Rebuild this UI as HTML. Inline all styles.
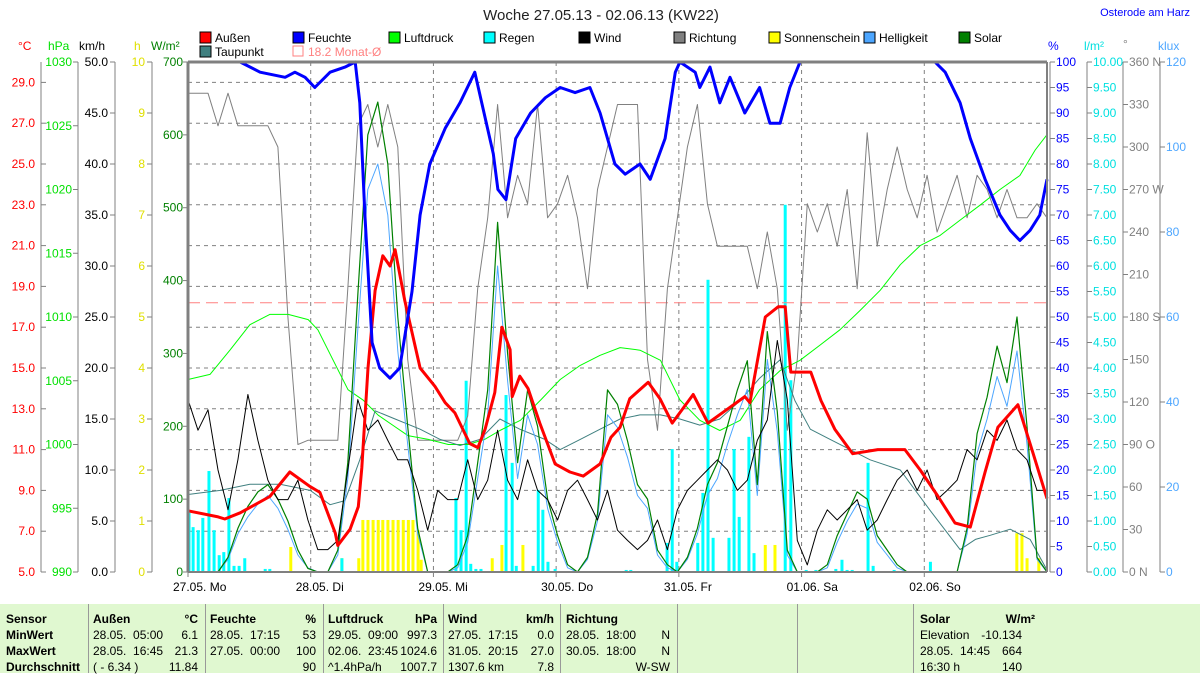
<!DOCTYPE html>
<html><head><meta charset="utf-8"><style>
html,body{margin:0;padding:0;background:#fff;}
svg{display:block;font-family:"Liberation Sans",sans-serif;}
.tb{font-family:"Liberation Sans Narrow","Liberation Sans",sans-serif;font-size:12px;}
</style></head><body>
<svg id="chart" width="1200" height="673" viewBox="0 0 1200 673" xmlns="http://www.w3.org/2000/svg">
<text x="601" y="20" text-anchor="middle" font-size="15" fill="#222">Woche 27.05.13 - 02.06.13 (KW22)</text>
<text x="1190" y="16" text-anchor="end" font-size="11" fill="#0000ff">Osterode am Harz</text>
<g font-size="12" fill="#000">
<g><rect x="200" y="32" width="11" height="11" fill="#ff0000" stroke="#000"/><text x="215" y="42">Außen</text></g>
<g><rect x="293" y="32" width="11" height="11" fill="#0000ff" stroke="#000"/><text x="308" y="42">Feuchte</text></g>
<g><rect x="389" y="32" width="11" height="11" fill="#00ff00" stroke="#000"/><text x="404" y="42">Luftdruck</text></g>
<g><rect x="484" y="32" width="11" height="11" fill="#00ffff" stroke="#000"/><text x="499" y="42">Regen</text></g>
<g><rect x="579" y="32" width="11" height="11" fill="#000" stroke="#000"/><text x="594" y="42">Wind</text></g>
<g><rect x="674" y="32" width="11" height="11" fill="#808080" stroke="#000"/><text x="689" y="42">Richtung</text></g>
<g><rect x="769" y="32" width="11" height="11" fill="#ffff00" stroke="#000"/><text x="784" y="42">Sonnenschein</text></g>
<g><rect x="864" y="32" width="11" height="11" fill="#4da6ff" stroke="#000"/><text x="879" y="42">Helligkeit</text></g>
<g><rect x="959" y="32" width="11" height="11" fill="#008000" stroke="#000"/><text x="974" y="42">Solar</text></g>
<g><rect x="200" y="46" width="11" height="11" fill="#408080" stroke="#000"/><text x="215" y="56">Taupunkt</text></g>
<g><rect x="293" y="46" width="10" height="10" fill="none" stroke="#ff8080"/><text x="308" y="56" fill="#ff8080">18.2 Monat-Ø</text></g>
</g>
<g font-size="12">
<text x="18" y="50" fill="#ff0000">°C</text>
<text x="48" y="50" fill="#00e000">hPa</text>
<text x="79" y="50" fill="#000">km/h</text>
<text x="134" y="50" fill="#e0e000">h</text>
<text x="151" y="50" fill="#008000">W/m²</text>
<text x="1048" y="50" fill="#0000ff">%</text>
<text x="1084" y="50" fill="#00e0e0">l/m²</text>
<text x="1123" y="48" fill="#808080">°</text>
<text x="1158" y="50" fill="#4da6ff">klux</text>
</g>
<g id="axes"></g>
<g id="plot"></g>
</svg>
<div class="tb" style="position:absolute;left:0;top:604px;width:1200px;height:69px;background:#e0f8d0;"></div>
<script>
// ---- data ----
var tempT=[0,5.9,7.2,10.2,13.1,16,19.9,23.8,25.8,28.8,29.3,31.7,33.3,34,35.2,36.6,38.1,39.5,40.5,42.4,45.4,48.3,50.3,52.2,55.1,56.7,58.1,60,61.4,63,63.4,64.9,66.5,68.8,71.8,74.7,77.3,80.6,82.7,84.5,86.4,90,92.3,94.7,98.8,101.7,105.6,108.9,109.9,112.9,115.4,116.8,117.9,121.8,123.8,126.5,130,134.9,140.2,143.2,146.7,150,153,155.9,158.4,162.3,165.3,168];
var tempV=[8.0,7.7,7.6,7.9,8.3,8.7,9.9,9.2,8.9,6.9,6.3,7.1,8.2,10.1,15.0,18.8,20.5,20.0,20.8,18.3,15.0,14.1,13.3,12.8,11.3,11.1,12.0,13.8,17.0,15.9,13.6,14.6,14.0,12.3,10.3,9.9,9.7,10.3,11.6,12.1,13.5,14.3,13.5,12.3,13.7,12.3,13.0,13.6,13.3,17.5,18.0,18.0,14.8,14.8,13.4,12.0,10.8,11.0,11.0,10.0,8.7,7.4,7.2,9.9,12.1,13.2,10.8,8.6];
var humT=[0,10.2,14.1,19,20.9,22.9,24.8,27.8,30.7,32.7,33.6,34.6,36,37.5,39.5,41.4,43.8,45.4,47.3,50.3,53.2,56.1,59.7,60.6,62.2,64.1,67,69.9,72.8,75.7,78.6,80.6,83.5,85.5,88.4,90.4,93.3,95.3,96.2,99.2,100.1,102.1,104,106,108.9,111.8,113.8,115.8,117.7,119.7,146.1,148.1,151,153,155.9,158.8,160.8,162.7,164.7,166.6,168];
var humV=[100,100,98,97,98,97,95,98,99,100,92,70,45,40,38,40,55,70,80,87,92,98,82,75,73,85,90,93,95,94,95,90,80,78,80,77,85,98,100,98,95,99,92,97,90,95,88,88,95,100,100,98,92,85,77,70,67,65,67,70,77];
var presT=[0,4.3,8.2,12.1,16,19.6,23.5,25.4,28.4,31.3,34.2,37.2,40.1,43,47,50.9,54.8,58,61,65,69,72.8,76.7,80.6,84.5,88.4,92.4,96.2,100.1,104,108,111.8,115.8,119.7,123.6,127.5,131.4,135.4,139.3,143.2,147.1,151,155,158.8,162.7,165.7,168];
var presV=[1005.1,1005.5,1007.4,1009.4,1010.2,1010.2,1009.8,1009,1006.6,1004.3,1003.5,1002.3,1001.5,1000.7,1000.4,1000,1000,1000.4,1001.1,1001.9,1003.5,1005.1,1006.2,1007,1007.6,1007.4,1006.6,1003.5,1001.9,1001.1,1001.9,1004.3,1005.8,1006.6,1007.8,1009,1010.5,1012.1,1014.1,1015.6,1016.4,1017.6,1018.8,1020,1021.1,1023.1,1024.3];
var dewT=[0,6.3,12.1,18,23.9,27.8,30.7,33.6,36.6,40.5,45.4,49.3,53.2,57.1,61,64.9,69.8,72.8,76.7,80.6,84.5,88.4,92.4,96.2,100.1,104,108,111.8,115.8,118.7,121.7,125.6,129.5,133.4,139.3,145.2,151,154,156.9,160.8,164.7,168];
var dewV=[8.8,9.0,9.3,9.3,9.0,8.3,8.5,10.5,12.9,12.5,12.0,11.5,11.2,11.5,12.5,12.0,11.5,11.0,11.5,12.0,12.5,12.7,12.7,12.5,12.2,12.5,13.4,14.5,15.4,13.4,12.0,11.5,11.0,10.5,10.0,8.0,6.1,6.6,6.8,7.1,6.6,5.1];
// uniformly sampled series (0h .. 168h)
var windV=[16.9,13.9,15.9,10,6.1,11,17.4,12.9,9,7.1,7.1,9,5.1,2.2,2.2,3.1,10,16.9,13.9,14.9,12.9,11,11,8,4.1,8,7.1,7.1,11,7.1,9,13.9,9,7.1,11,8,7.1,5.1,8,9,7.1,5.1,8,4.1,3.1,2.2,3.1,5.1,2.2,6.1,8,9,10,11,10,8,9,12.9,14.9,22.7,16.9,3.1,0.7,4.1,6.1,5.1,6.1,7.1,4.1,5.1,7.1,9,10,8,10,7.1,8,9,12,11,13.9,12.9,14.9,12,11,8,8];
var dirV=[338,338,338,315,338,315,315,315,315,300,180,90,93,93,93,93,200,315,330,300,330,300,150,93,93,93,93,93,110,200,250,330,250,280,260,330,250,260,280,250,200,270,300,330,330,330,150,100,200,250,300,330,260,230,230,230,230,200,240,200,100,150,260,240,260,230,270,200,310,230,270,300,270,250,280,240,260,280,250,280,270,250,270,250,250,260,250];
var solarV=[0,0,0,0,20,60,90,110,120,100,70,30,5,0,0,30,150,380,600,645,560,350,200,60,0,0,0,10,50,150,250,480,300,150,250,200,100,50,10,0,20,80,250,230,180,120,100,30,10,0,20,60,120,150,200,250,290,120,330,220,30,0,0,0,10,50,80,110,100,50,30,10,0,0,0,0,0,0,60,190,240,310,260,350,200,20,0];
var luxV=[0,0,0,0,3,9,13,16,18,15,10,4,1,0,0,4,22,57,90,96,84,52,30,9,0,0,0,1,7,22,37,72,45,22,37,30,15,7,1,0,3,12,37,34,27,18,15,4,1,0,3,9,18,22,30,37,43,18,50,33,4,0,0,0,1,7,12,16,15,7,4,1,0,0,0,0,0,0,9,28,36,46,39,52,30,3,0];
var rainT=[0.2,1.0,2.0,2.9,4.1,5.1,6.1,7.0,8.0,9.0,10.0,11.1,15.1,16.0,30.1,52.4,53.4,54.4,55.3,56.3,57.3,62.2,63.4,64.2,67.5,68.5,69.4,70.4,71.8,85.7,86.6,93.7,94.7,95.6,99.7,100.7,101.7,102.7,105.8,106.8,107.8,109.7,110.7,116.8,117.9,120.9,122.8,126.7,127.9,128.9,129.9,133,134,138.1,145.2];
var rainV=[1.16,0.88,0.82,1.06,1.98,0.82,0.33,0.39,1.45,0.12,0.12,0.27,0.06,0.06,0.27,1.45,0.82,3.75,0.16,0.06,0.06,3.47,2.14,0.12,0.12,1.61,1.22,0.2,0.06,0.04,0.04,0.57,2.41,0.2,0.57,1.55,5.73,0.67,0.67,2.41,1.08,2.65,0.37,7.2,3.76,0.04,0.04,0.06,0.24,0.04,0.04,2.14,0.12,0.04,0.2];
var sunT=[20.1,30.1,33.4,34.2,35.2,36.2,37.2,38.1,39.1,40.1,41.1,42.1,43.1,44.0,45.0,45.6,59.5,61.4,65.5,112.9,114.8,162.1,163.1,164.1,166.4];
var sunV=[0.49,0.27,0.27,1.02,1.02,1.02,1.02,1.02,1.02,1.02,1.02,1.02,1.02,1.02,0.82,0.24,0.27,0.53,0.53,0.53,0.53,0.76,0.76,0.27,0.27];
var monthAvg=18.2;
var dayLabels=["27.05.  Mo","28.05.  Di","29.05.  Mi","30.05.  Do","31.05.  Fr","01.06.  Sa","02.06.  So"];
var tempTicks=[5,7,9,11,13,15,17,19,21,23,25,27,29];
var presTicks=[990,995,1000,1005,1010,1015,1020,1025,1030];
var windTicks=[0,5,10,15,20,25,30,35,40,45,50];
var sunTicks=[0,1,2,3,4,5,6,7,8,9,10];
var solarTicks=[0,100,200,300,400,500,600,700];
var humTicks=[0,5,10,15,20,25,30,35,40,45,50,55,60,65,70,75,80,85,90,95,100];
var rainTicks=["0.00","0.50","1.00","1.50","2.00","2.50","3.00","3.50","4.00","4.50","5.00","5.50","6.00","6.50","7.00","7.50","8.00","8.50","9.00","9.50","10.00"];
var dirTicks=[0,30,60,90,120,150,180,210,240,270,300,330,360];
var dirNames={0:" N",90:" O",180:" S",270:" W",360:" N"};
var luxTicks=[0,20,40,60,80,100,120];

// ---- scales ----
var L=188,R=1047,T=62,B=572,HH=B-T;
function X(h){return L+h*(R-L)/168;}
function yT(c){return B-(c-5)/25*HH;}
function yP(p){return B-(p-990)/40*HH;}
function yW(k){return B-k/50*HH;}
function yS(w){return B-w/700*HH;}
function yH(p){return B-p/100*HH;}
function yR(l){return B-l/10*HH;}
function yD(d){return B-d/360*HH;}
function yL(k){return B-k/120*HH;}
function ySun(h){return B-h/10*HH;}
var NS="http://www.w3.org/2000/svg";
var axes=document.getElementById('axes'),plot=document.getElementById('plot');
function mk(tag,attrs,parent){var e=document.createElementNS(NS,tag);for(var k in attrs)e.setAttribute(k,attrs[k]);parent.appendChild(e);return e;}
function txt(x,y,s,anchor,fill,parent){var e=mk('text',{x:x,y:y,'text-anchor':anchor,fill:fill,'font-size':12},parent);e.textContent=s;return e;}

// grid
var grid=mk('g',{},plot);


tempTicks.forEach(function(c){if(c>5)mk('line',{x1:L,x2:R,y1:yT(c),y2:yT(c),stroke:'#808080','stroke-dasharray':'4,4','stroke-width':1},grid);});
for(var d=1;d<7;d++){mk('line',{x1:X(d*24),x2:X(d*24),y1:T,y2:B,stroke:'#808080','stroke-dasharray':'4,4','stroke-width':1},grid);}

// axes
function vAxis(name,xLine,ticks,yf,fmt,color,side,lx,anchor){
  var g=mk('g',{},axes);
  
  
  if(xLine!==null)mk('line',{x1:xLine,x2:xLine,y1:T,y2:B,stroke:'#808080','stroke-width':1},g);
  ticks.forEach(function(v,i){var y=yf(v,i);
    if(xLine!==null)mk('line',{x1:xLine,x2:xLine+side*5,y1:y,y2:y,stroke:'#808080'},g);
    txt(lx,y+4,fmt(v),anchor,color,g);});
}
vAxis('temp-axis',41,tempTicks,yT,function(v){return v.toFixed(1);},'#ff0000',1,35,'end');
vAxis('pressure-axis',78,presTicks,yP,function(v){return ''+v;},'#00e000',-1,72,'end');
vAxis('wind-axis',115,windTicks,yW,function(v){return v.toFixed(1);},'#000',-1,108,'end');
vAxis('sunshine-axis',152,sunTicks,ySun,function(v){return ''+v;},'#e0e000',-1,145,'end');
vAxis('solar-axis',null,solarTicks,yS,function(v){return ''+v;},'#008000',-1,183,'end');
solarTicks.forEach(function(v){mk('line',{x1:183,x2:188,y1:yS(v),y2:yS(v),stroke:'#808080'},axes);});
vAxis('humidity-axis',1050,humTicks,yH,function(v){return ''+v;},'#0000ff',1,1056,'start');
vAxis('rain-axis',1087,rainTicks,function(v,i){return yR(i*0.5);},function(v){return v;},'#00e0e0',1,1093,'start');
vAxis('direction-axis',1123,dirTicks,yD,function(v){return v+(dirNames[v]||'');},'#808080',1,1129,'start');
vAxis('lux-axis',1160,luxTicks,yL,function(v){return ''+v;},'#4da6ff',1,1166,'start');

// x labels
dayLabels.forEach(function(s,i){
  var t=txt(X(i*24)-15,591,s,'start','#000',axes);
  
  
  t.setAttribute('xml:space','preserve');
  mk('line',{x1:X(i*24),x2:X(i*24),y1:B,y2:B+5,stroke:'#808080'},axes);
});

// bars
sunT.forEach(function(h,i){
  var r=mk('rect',{x:X(h)-1.5,y:ySun(sunV[i]),width:3,height:B-ySun(sunV[i]),fill:'#ffff00'},plot);
  
  
});
rainT.forEach(function(h,i){
  var r=mk('rect',{x:X(h)-1.5,y:yR(rainV[i]),width:3,height:B-yR(rainV[i]),fill:'#00ffff'},plot);
  
  
});
var ma=mk('line',{x1:L,x2:R,y1:yT(monthAvg),y2:yT(monthAvg),stroke:'#ff8080','stroke-dasharray':'12,6'},plot);



function line(name,ts,vs,yf,color,w){
  var d='';for(var i=0;i<vs.length;i++){d+=(i?'L':'M')+X(ts[i]).toFixed(1)+','+yf(vs[i]).toFixed(1);}
  var p=mk('path',{d:d,fill:'none',stroke:color,'stroke-width':w,'stroke-linejoin':'round'},plot);
  
  
  return p;
}
function uni(vs){var t=[];for(var i=0;i<vs.length;i++)t.push(i*168/(vs.length-1));return t;}
line('direction-line',uni(dirV),dirV,yD,'#808080',1);
line('pressure-line',presT,presV,yP,'#00ff00',1);
line('dewpoint-line',dewT,dewV,yT,'#408080',1);
line('brightness-line',uni(luxV),luxV,yL,'#4da6ff',1);
line('solar-line',uni(solarV),solarV,yS,'#008000',1.2);
line('wind-line',uni(windV),windV,yW,'#000',1);
line('temperature-line',tempT,tempV,yT,'#ff0000',3);
line('humidity-line',humT,humV,yH,'#0000ff',3);

// frame
var fr=mk('g',{},plot);


mk('line',{x1:L,x2:R,y1:T,y2:T,stroke:'#808080','stroke-width':3},fr);
mk('line',{x1:L,x2:L,y1:T,y2:B,stroke:'#808080','stroke-width':3},fr);
mk('line',{x1:R,x2:R,y1:T,y2:B,stroke:'#808080','stroke-width':2},fr);
mk('line',{x1:L,x2:R,y1:B,y2:B,stroke:'#808080','stroke-width':2},fr);

// table
var tb=document.querySelector('.tb');
var seps=[88,205,323,443,560,677,797,913];
seps.forEach(function(x){var s=document.createElement('div');s.style.cssText='position:absolute;left:'+x+'px;top:0;width:1px;height:69px;background:#999;';tb.appendChild(s);});
var cells=[
 [6,'Sensor',1,'s'],[6,'MinWert',2,'s'],[6,'MaxWert',3,'s'],[6,'Durchschnitt',4,'s'],
 [93,'Außen',1,'s'],[198,'°C',1,'e'],[93,'28.05.  05:00',2],[198,'6.1',2,'e'],[93,'28.05.  16:45',3],[198,'21.3',3,'e'],[93,'( - 6.34 )',4],[198,'11.84',4,'e'],
 [210,'Feuchte',1,'s'],[316,'%',1,'e'],[210,'28.05.  17:15',2],[316,'53',2,'e'],[210,'27.05.  00:00',3],[316,'100',3,'e'],[316,'90',4,'e'],
 [328,'Luftdruck',1,'s'],[437,'hPa',1,'e'],[328,'29.05.  09:00',2],[437,'997.3',2,'e'],[328,'02.06.  23:45',3],[437,'1024.6',3,'e'],[328,'^1.4hPa/h',4],[437,'1007.7',4,'e'],
 [448,'Wind',1,'s'],[554,'km/h',1,'e'],[448,'27.05.  17:15',2],[554,'0.0',2,'e'],[448,'31.05.  20:15',3],[554,'27.0',3,'e'],[448,'1307.6 km',4],[554,'7.8',4,'e'],
 [566,'Richtung',1,'s'],[670,'N',2,'e'],[566,'28.05.  18:00',2],[566,'30.05.  18:00',3],[670,'N',3,'e'],[670,'W-SW',4,'e'],
 [920,'Solar',1,'s'],[1035,'W/m²',1,'e'],[920,'Elevation',2],[1022,'-10.134',2,'e'],[920,'28.05.  14:45',3],[1022,'664',3,'e'],[920,'16:30 h',4],[1022,'140',4,'e']
];
cells.forEach(function(c){
  var d=document.createElement('div');
  
  
  var bold=(c[3]==='s')||(c[2]===1);
  var top=(c[2]-1)*16+7;
  var st='position:absolute;top:'+top+'px;white-space:pre;line-height:16px;font-weight:'+(bold?'bold':'normal')+';color:#000;';
  if(c[3]==='e'){st+='right:'+(1200-c[0])+'px;';}else{st+='left:'+c[0]+'px;';}
  d.style.cssText=st;d.textContent=c[1];tb.appendChild(d);
});
</script>
</body></html>
